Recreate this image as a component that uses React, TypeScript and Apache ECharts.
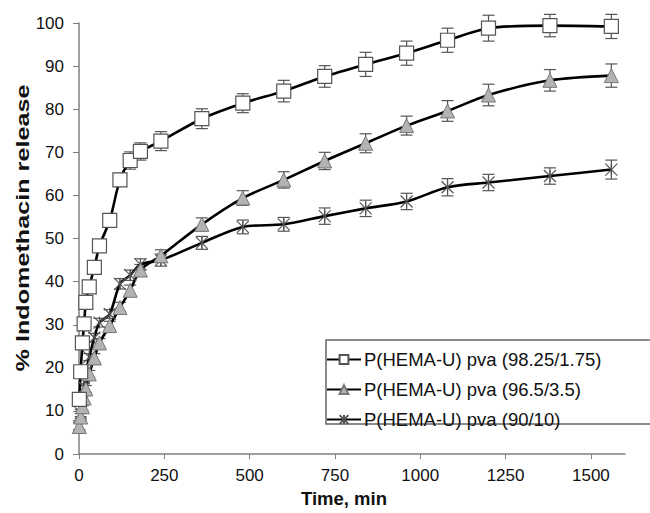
import React, { useEffect, useRef } from "react";
import * as echarts from "echarts";

// ---- data ----
const times = [1, 5, 10, 15, 20, 30, 45, 60, 90, 120, 150, 180, 240, 360, 480, 600, 720, 840, 960, 1080, 1200, 1380, 1560];

const release9825 = [12.7, 19.1, 25.8, 30.2, 35.2, 38.8, 43.3, 48.3, 54.2, 63.6, 68.1, 70.2, 72.6, 77.8, 81.4, 84.2, 87.6, 90.4, 93.0, 96.0, 98.8, 99.4, 99.2];
const err9825 = [1.0, 1.0, 1.0, 1.0, 1.0, 1.0, 1.2, 1.2, 1.5, 1.5, 2.0, 2.0, 2.2, 2.3, 2.2, 2.5, 2.5, 2.8, 2.8, 2.8, 3.0, 2.6, 2.8];

const release965 = [6.4, 8.6, 11.0, 13.0, 15.1, 18.6, 22.3, 25.8, 29.8, 34.0, 38.0, 42.7, 46.0, 53.3, 59.4, 63.6, 68.0, 72.1, 76.2, 79.6, 83.3, 86.7, 87.8];
const err965 = [0.8, 0.8, 0.8, 0.8, 0.8, 0.8, 1.0, 1.0, 1.0, 1.2, 1.2, 1.3, 1.4, 1.5, 1.7, 1.9, 2.0, 2.2, 2.2, 2.4, 2.5, 2.5, 2.7];

const release9010 = [6.5, 9.5, 12.5, 15.5, 19.0, 22.5, 27.0, 30.5, 32.5, 39.5, 41.5, 44.0, 45.0, 49.0, 52.7, 53.3, 55.2, 57.0, 58.6, 61.9, 63.0, 64.5, 66.0];
const err9010 = [0.8, 0.8, 0.8, 0.8, 0.8, 0.8, 1.0, 1.0, 1.0, 1.2, 1.2, 1.3, 1.4, 1.5, 1.6, 1.6, 1.9, 1.9, 1.9, 2.0, 1.9, 1.9, 2.2];

const seriesNames = [
  "P(HEMA-U) pva (98.25/1.75)",
  "P(HEMA-U) pva (96.5/3.5)",
  "P(HEMA-U) pva (90/10)",
];

const xTicks = [0, 250, 500, 750, 1000, 1250, 1500];
const xTitle = "Time, min";
const yTitle = "% Indomethacin release";

const FONT = "'Liberation Sans', Arial, sans-serif";
const STAR = "path://M0,0L12,12M12,0L0,12M6,0L6,12";

function pairs(vals: number[]) {
  return times.map((t, i) => [t, vals[i]]);
}
function errRows(vals: number[], errs: number[]) {
  return times.map((t, i) => [t, vals[i] - errs[i], vals[i] + errs[i]]);
}

function errorSeries(name: string, vals: number[], errs: number[]) {
  return {
    type: "custom",
    name,
    z: 1,
    data: errRows(vals, errs),
    encode: { x: 0, y: [1, 2] },
    renderItem: (params: any, api: any) => {
      const x = api.value(0);
      const lo = api.value(1);
      const hi = api.value(2);
      const pHi = api.coord([x, hi]);
      const pLo = api.coord([x, lo]);
      const w = 6;
      const st = { stroke: "#555", lineWidth: 1.2 };
      return {
        type: "group",
        children: [
          { type: "line", shape: { x1: pHi[0], y1: pHi[1], x2: pLo[0], y2: pLo[1] }, style: st },
          { type: "line", shape: { x1: pHi[0] - w, y1: pHi[1], x2: pHi[0] + w, y2: pHi[1] }, style: st },
          { type: "line", shape: { x1: pLo[0] - w, y1: pLo[1], x2: pLo[0] + w, y2: pLo[1] }, style: st },
        ],
      };
    },
  };
}

export default function App() {
  const ref = useRef<HTMLDivElement>(null);
  useEffect(() => {
    if (!ref.current) return;
    const chart = echarts.init(ref.current, undefined, { renderer: "svg" });
    const lineBase = {
      type: "line",
      smooth: 0.3,
      z: 3,
      lineStyle: { color: "#000", width: 2.6 },
    };
    chart.setOption({
      animation: false,
      backgroundColor: "#fff",
      textStyle: { fontFamily: FONT },
      grid: { left: 79, right: 25, top: 23, bottom: 50, containLabel: false },
      xAxis: {
        type: "value",
        min: 0,
        max: 1600,
        interval: 250,
        name: xTitle,
        nameLocation: "middle",
        nameGap: 32,
        nameTextStyle: { fontFamily: FONT, fontSize: 18.5, fontWeight: "bold", color: "#111", padding: [0, 16, 0, 0] },
        axisLine: { lineStyle: { color: "#808080", width: 1.5 } },
        axisTick: { show: true, length: 5, lineStyle: { color: "#808080" }, customValues: xTicks },
        axisLabel: {
          fontFamily: FONT,
          fontSize: 17,
          color: "#111",
          margin: 13,
          customValues: xTicks,
          formatter: (v: number) => String(v),
        },
        splitLine: { show: false },
      },
      yAxis: {
        type: "value",
        min: 0,
        max: 100,
        interval: 10,
        axisLine: { show: true, lineStyle: { color: "#808080", width: 1.5 } },
        axisTick: { show: true, length: 6, lineStyle: { color: "#808080" } },
        axisLabel: { fontFamily: FONT, fontSize: 17, color: "#111", margin: 15 },
        splitLine: { show: false },
      },
      legend: {
        data: seriesNames,
        orient: "vertical",
        left: 326,
        top: 350,
        itemGap: 11,
        itemWidth: 34,
        itemHeight: 11,
        padding: 0,
        textStyle: { fontFamily: FONT, fontSize: 18.5, color: "#111", padding: [0, 0, 0, -2] },
      },
      graphic: [
        {
          type: "rect",
          shape: { x: 326, y: 340, width: 340, height: 84 },
          style: { fill: "#fff", stroke: "#666", lineWidth: 1.5 },
          z: -1,
          silent: true,
        },
        {
          type: "text",
          x: 23,
          y: 228,
          rotation: Math.PI / 2,
          scaleX: 1.4,
          style: {
            text: yTitle,
            fontFamily: FONT,
            fontSize: 18,
            fontWeight: "bold",
            fill: "#111",
            align: "center",
            verticalAlign: "middle",
          },
          silent: true,
        },
      ],
      series: [
        errorSeries("e1", release9825, err9825),
        errorSeries("e2", release965, err965),
        errorSeries("e3", release9010, err9010),
        {
          ...lineBase,
          name: seriesNames[2],
          data: pairs(release9010),
          symbol: STAR,
          symbolSize: 12,
          itemStyle: { color: "rgba(0,0,0,0)", borderColor: "#555", borderWidth: 1.2 },
        },
        {
          ...lineBase,
          name: seriesNames[1],
          data: pairs(release965),
          symbol: "triangle",
          symbolSize: 14,
          itemStyle: { color: "#b3b3b3", borderColor: "#777", borderWidth: 1 },
        },
        {
          ...lineBase,
          name: seriesNames[0],
          data: pairs(release9825),
          symbol: "rect",
          symbolSize: 14,
          itemStyle: { color: "#fff", borderColor: "#555", borderWidth: 1.2 },
        },
      ],
    });
    return () => chart.dispose();
  }, []);
  return <div ref={ref} style={{ width: 650, height: 513, position: "absolute", left: 0, top: 0 }} />;
}
